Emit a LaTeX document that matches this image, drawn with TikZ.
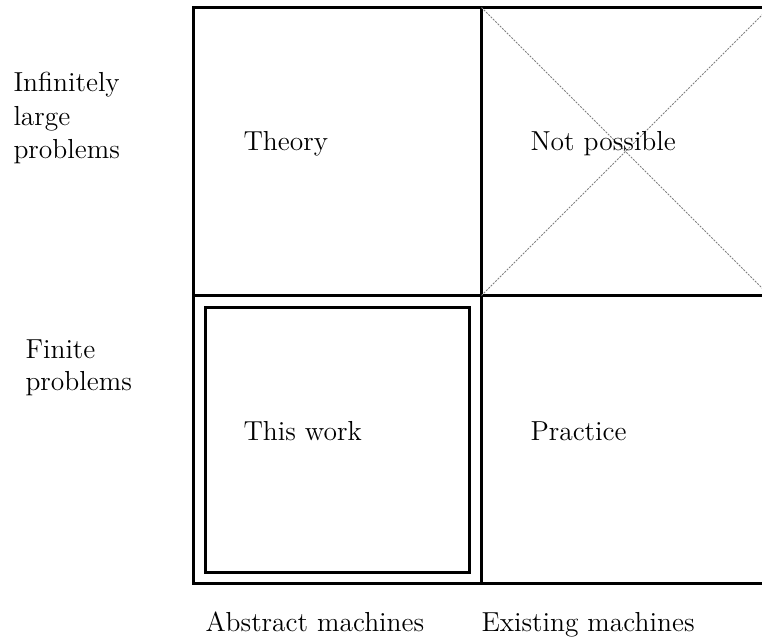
\documentclass[tikz,border=0pt]{standalone}
\begin{document}
\begin{tikzpicture}[x=0.4pt, y=-0.4pt,
  font=\fontsize{11}{13}\selectfont,
  frame/.style={line width=1.2pt},
  cross/.style={gray, line width=0.35pt, dash pattern=on 0.8pt off 0.5pt},
  lbl/.style={anchor=base west, inner sep=0pt}
]
  \useasboundingbox (0,0) rectangle (762,640);
  % Raster der vier Felder
  \coordinate (tl) at (193.5,7.5);
  \coordinate (mc) at (481.5,295.5);
  \coordinate (br) at (769.5,583.5);
  \draw[frame] (tl) rectangle (br);
  \draw[frame] (193.5,295.5) -- (769.5,295.5);
  \draw[frame] (481.5,7.5) -- (481.5,583.5);
  % innerer Rahmen
  \draw[frame] (205,307.5) rectangle (469,572);
  % Kreuz
  \draw[cross] (mc) -- (769.5,7.5);
  \draw[cross] (481.5,7.5) -- (769.5,295.5);
  % Feldtexte
  \node[lbl] (theory)   at (243,151) {Theory};
  \node[lbl] (notposs)  at (530,151) {Not possible};
  \node[lbl] (thiswork) at (243,440) {This work};
  \node[lbl] (practice) at (530,440) {Practice};
  % Zeilen
  \node[lbl] (inf1) at (13,92)  {Infinitely};
  \node[lbl] (inf2) at (13,125) {large};
  \node[lbl] (inf3) at (13,158) {problems};
  \node[lbl] (fin1) at (25,358) {Finite};
  \node[lbl] (fin2) at (25,391) {problems};
  % Spalten
  \node[lbl] (abstr) at (205,631) {Abstract machines};
  \node[lbl] (exist) at (481,631) {Existing machines};
\end{tikzpicture}
\end{document}
